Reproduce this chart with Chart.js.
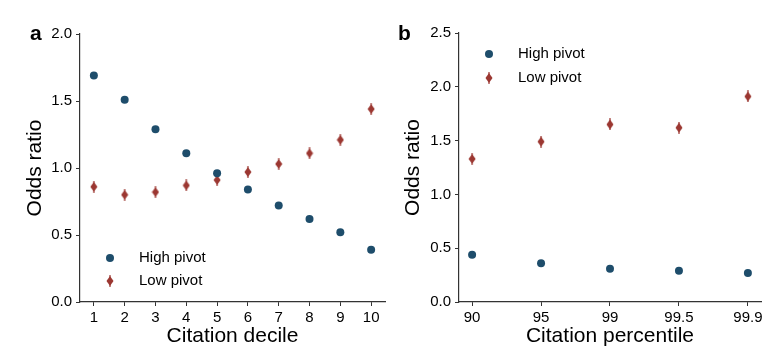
<!DOCTYPE html>
<html>
<head>
<meta charset="utf-8">
<script src="https://cdn.jsdelivr.net/npm/chart.js@4.4.0/dist/chart.umd.min.js"></script>
<style>
    body { margin: 0; background: #ffffff; }
    #graficos { position: relative; width: 782px; height: 359px; }
    #graficos canvas { position: absolute; top: 0; }
</style>
</head>
<body>
<div id="graficos">
    <canvas id="myChartCanvas-a" width="391" height="359" style="left:0px"></canvas>
    <canvas id="myChartCanvas-b" width="391" height="359" style="left:391px"></canvas>
</div>
<script>
    // dados
    const deciles = [1, 2, 3, 4, 5, 6, 7, 8, 9, 10];
    const highPivotDecile = [1.69, 1.51, 1.29, 1.11, 0.96, 0.84, 0.72, 0.62, 0.52, 0.39];
    const lowPivotDecile = [0.86, 0.80, 0.82, 0.87, 0.91, 0.97, 1.03, 1.11, 1.21, 1.44];

    const percentiles = ['90', '95', '99', '99.5', '99.9'];
    const highPivotPct = [0.44, 0.36, 0.31, 0.29, 0.27];
    const lowPivotPct = [1.33, 1.49, 1.65, 1.62, 1.91];

    const corAzul = '#1e4d6b';
    const corVermelho = '#9c3832';
    const fonte = '"Liberation Sans", Arial, Helvetica, sans-serif';

    // losango alto com barrinha de erro (marcador do "Low pivot")
    function criarLosango() {
        let c = document.createElement('canvas');
        c.width = 8; c.height = 12;
        let ctx = c.getContext('2d');
        ctx.fillStyle = corVermelho;
        ctx.beginPath();
        ctx.moveTo(4, 1);
        ctx.lineTo(7.5, 6);
        ctx.lineTo(4, 11);
        ctx.lineTo(0.5, 6);
        ctx.closePath();
        ctx.fill();
        ctx.strokeStyle = corVermelho;
        ctx.lineWidth = 1.2;
        ctx.beginPath();
        ctx.moveTo(4, 0);
        ctx.lineTo(4, 12);
        ctx.stroke();
        return c;
    }
    const losango = criarLosango();

    // legenda desenhada dentro da area do grafico
    const legendaPlugin = {
        id: 'legendaInterna',
        afterDraw(chart, args, opts) {
            const ctx = chart.ctx;
            ctx.save();
            ctx.font = '15px ' + fonte;
            ctx.textBaseline = 'middle';
            ctx.fillStyle = '#000';
            chart.data.datasets.forEach((ds, i) => {
                let y = opts.y + i * opts.espaco;
                if (ds.pointStyle === 'circle') {
                    ctx.fillStyle = ds.backgroundColor;
                    ctx.beginPath();
                    ctx.arc(opts.x, y, 4, 0, Math.PI * 2);
                    ctx.fill();
                } else {
                    ctx.drawImage(ds.pointStyle, opts.x - 4, y - 6);
                }
                ctx.fillStyle = '#000';
                ctx.fillText(ds.label, opts.textoX, y);
            });
            // letra do painel
            ctx.font = 'bold 21px ' + fonte;
            ctx.textBaseline = 'alphabetic';
            ctx.fillText(opts.letra, opts.letraX, 40);
            ctx.restore();
        }
    };

    function eixoY(max, larguraEixo, padTitulo) {
        return {
            min: 0,
            max: max,
            afterFit: (scale) => { scale.width = larguraEixo; },
            ticks: {
                stepSize: 0.5,
                padding: 4,
                color: '#000',
                font: { family: fonte, size: 15 },
                callback: (v) => v.toFixed(1)
            },
            grid: { drawOnChartArea: false, drawTicks: true, tickLength: 4, color: '#333', tickWidth: 1 },
            border: { display: true, color: '#333', width: 1.2 },
            title: {
                display: true,
                text: 'Odds ratio',
                color: '#000',
                font: { family: fonte, size: 21 },
                padding: { top: padTitulo, bottom: 0 }
            }
        };
    }

    function eixoX(min, max, valores, rotulos, titulo) {
        return {
            type: 'linear',
            min: min,
            max: max,
            afterFit: (scale) => { scale.height = 57; },
            afterBuildTicks: (scale) => { scale.ticks = valores.map(v => ({ value: v })); },
            ticks: {
                padding: 3,
                color: '#000',
                font: { family: fonte, size: 15 },
                callback: (v) => rotulos ? rotulos[v] : String(v)
            },
            grid: { drawOnChartArea: false, drawTicks: true, tickLength: 4, color: '#333', tickWidth: 1 },
            border: { display: true, color: '#333', width: 1.2 },
            title: {
                display: true,
                text: titulo,
                color: '#000',
                font: { family: fonte, size: 21 },
                padding: { top: 0, bottom: 10 }
            }
        };
    }

    function conjuntos(xs, alto, baixo) {
        return [{
            label: 'High pivot',
            data: xs.map((x, i) => ({ x: x, y: alto[i] })),
            pointStyle: 'circle',
            backgroundColor: corAzul,
            pointRadius: 4,
            pointBorderWidth: 0,
            clip: false
        }, {
            label: 'Low pivot',
            data: xs.map((x, i) => ({ x: x, y: baixo[i] })),
            pointStyle: losango,
            backgroundColor: corVermelho,
            pointRadius: 5,
            clip: false
        }];
    }

    function plotarGrafico(id, datasets, escalas, padding, legenda) {
        return new Chart(document.getElementById(id), {
            type: 'scatter',
            data: { datasets: datasets },
            options: {
                responsive: false,
                animation: false,
                events: [],
                layout: { padding: padding },
                scales: escalas,
                plugins: {
                    legend: { display: false },
                    tooltip: { enabled: false },
                    legendaInterna: legenda
                }
            },
            plugins: [legendaPlugin]
        });
    }

    // painel a
    plotarGrafico('myChartCanvas-a',
        conjuntos(deciles, highPivotDecile, lowPivotDecile),
        {
            x: eixoX(0.55, 10.45, deciles, null, 'Citation decile'),
            y: eixoY(2.0, 80, 23)
        },
        { top: 34, right: 5, left: 0, bottom: 0 },
        { x: 110, y: 258, espaco: 23, textoX: 139, letra: 'a', letraX: 30 }
    );

    // painel b
    const indices = percentiles.map((p, i) => i);
    plotarGrafico('myChartCanvas-b',
        conjuntos(indices, highPivotPct, lowPivotPct),
        {
            x: eixoX(-0.19, 4.19, indices, percentiles, 'Citation percentile'),
            y: eixoY(2.5, 68, 10)
        },
        { top: 33, right: 21, left: 0, bottom: 0 },
        { x: 98, y: 54, espaco: 24, textoX: 127, letra: 'b', letraX: 7 }
    );
</script>
</body>
</html>
